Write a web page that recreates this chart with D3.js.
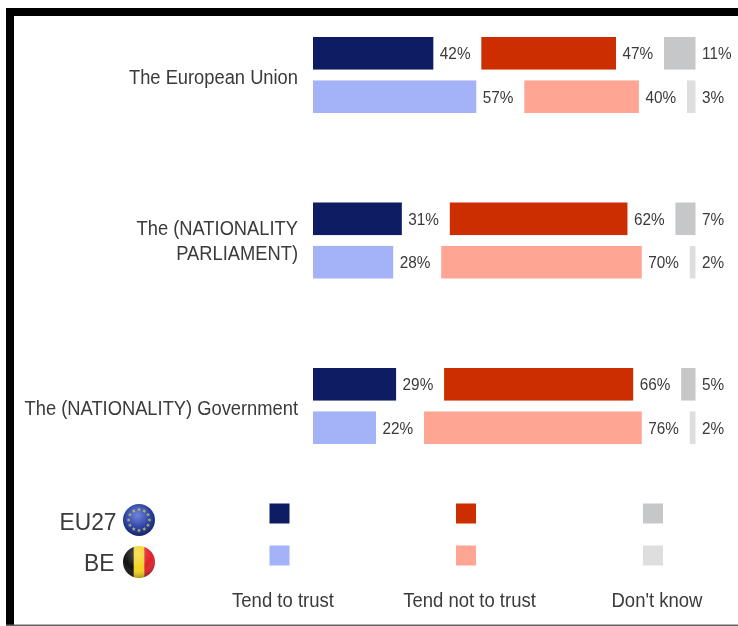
<!DOCTYPE html>
<html>
<head>
<meta charset="utf-8">
<script src="https://cdn.jsdelivr.net/npm/d3@7"></script>
<style>
html, body { margin: 0; padding: 0; background: #fff; }
svg { display: block; }
text { font-family: "Liberation Sans", Arial, sans-serif; fill: #3a3a3a; }
</style>
</head>
<body>
<div id="chart"></div>
<script>
// values
const categories = ["The European Union", "The (NATIONALITY PARLIAMENT)", "The (NATIONALITY) Government"];
const categoryLines = [["The European Union"], ["The (NATIONALITY", "PARLIAMENT)"], ["The (NATIONALITY) Government"]];
const responses = ["Tend to trust", "Tend not to trust", "Don't know"];
const populations = ["EU27", "BE"];
const eu27Values = [[42, 47, 11], [31, 62, 7], [29, 66, 5]];
const beValues = [[57, 40, 3], [28, 70, 2], [22, 76, 2]];
const eu27Colors = ["#0f1c64", "#cc2e02", "#c6c7c9"];
const beColors = ["#a4b3f8", "#fea594", "#dedede"];

const width = 738, height = 626;
const gap = 48; // space left after each bar for its label

const svg = d3.select("#chart").append("svg")
	.attr("width", width)
	.attr("height", height);

const defs = svg.append("defs");

// the reference is a soft, upscaled screenshot
defs.append("filter").attr("id", "soft")
	.append("feGaussianBlur").attr("stdDeviation", 0.65);

const euGrad = defs.append("radialGradient").attr("id", "euGrad")
	.attr("cx", "45%").attr("cy", "35%").attr("r", "70%");
euGrad.append("stop").attr("offset", "0%").attr("stop-color", "#6f86e0");
euGrad.append("stop").attr("offset", "60%").attr("stop-color", "#2a3f9e");
euGrad.append("stop").attr("offset", "100%").attr("stop-color", "#16235f");

defs.append("clipPath").attr("id", "beClip")
	.append("circle").attr("r", 16);

const shine = defs.append("radialGradient").attr("id", "shine")
	.attr("cx", "45%").attr("cy", "25%").attr("r", "75%");
shine.append("stop").attr("offset", "0%").attr("stop-color", "#fff").attr("stop-opacity", 0.3);
shine.append("stop").attr("offset", "60%").attr("stop-color", "#fff").attr("stop-opacity", 0);
shine.append("stop").attr("offset", "100%").attr("stop-color", "#000").attr("stop-opacity", 0.3);

const g = svg.append("g").attr("filter", "url(#soft)");

// frame
g.append("rect").attr("x", 6).attr("y", 8).attr("width", 8).attr("height", height - 8).attr("fill", "#000");
g.append("rect").attr("x", 6).attr("y", 8).attr("width", width - 6).attr("height", 8).attr("fill", "#000");
g.append("rect").attr("x", 6).attr("y", 624.5).attr("width", width - 6).attr("height", 1.5).attr("fill", "#666");

// scales
const x = d3.scaleLinear().domain([0, 100]).range([0, 286.5]);
const groupY = d3.scalePoint().domain(categories).range([37, 368]);
const rowY = d3.scaleBand().domain(populations).range([0, 76]).paddingInner(0.25);

const rows = categories.flatMap((c, i) => [
	{ category: c, population: "EU27", values: eu27Values[i], colors: eu27Colors },
	{ category: c, population: "BE", values: beValues[i], colors: beColors }
]);

const row = g.selectAll(".row")
	.data(rows)
	.enter().append("g")
	.attr("class", "row")
	.attr("transform", d => "translate(313," + (groupY(d.category) + rowY(d.population)) + ")");

const cell = row.selectAll(".cell")
	.data(d => {
		let cum = 0;
		return d.values.map((v, i) => {
			const start = x(cum) + gap * i;
			cum += v;
			return { value: v, start: start, color: d.colors[i] };
		});
	})
	.enter().append("g")
	.attr("class", "cell");

cell.append("rect")
	.attr("x", d => d.start)
	.attr("y", 0)
	.attr("width", d => x(d.value))
	.attr("height", rowY.bandwidth())
	.attr("fill", d => d.color);

cell.append("text")
	.attr("x", d => d.start + x(d.value) + 6.5)
	.attr("y", rowY.bandwidth() / 2)
	.attr("dy", "0.36em")
	.style("font-size", "16.5px")
	.attr("transform-origin", d => (d.start + x(d.value) + 6.5) + "px 0px")
	.style("transform", "scaleX(0.93)")
	.text(d => d.value + "%");

// category labels, right aligned against the bars
const labelCentre = [77, 240.5, 408];
const catLabel = g.selectAll(".cat")
	.data(categories)
	.enter().append("text")
	.attr("class", "cat")
	.attr("text-anchor", "end")
	.style("font-size", "19.5px")
	.attr("transform-origin", "298px 0px")
	.style("transform", "scaleX(0.94)");

catLabel.selectAll("tspan")
	.data((d, i) => categoryLines[i].map((t, j) => ({ t: t, y: labelCentre[i] + (j - (categoryLines[i].length - 1) / 2) * 25 })))
	.enter().append("tspan")
	.attr("x", 298)
	.attr("y", d => d.y)
	.attr("dy", "0.36em")
	.text(d => d.t);

// legend
const legendX = d3.scaleOrdinal().domain(responses).range([279.5, 466, 653]);
const legendLabelX = d3.scaleOrdinal().domain(responses).range([283, 469.5, 657]);
const legendY = d3.scaleOrdinal().domain(populations).range([513.5, 555.5]);
const swatch = 20;

g.selectAll(".sw-eu")
	.data(responses)
	.enter().append("rect")
	.attr("x", d => legendX(d) - swatch / 2)
	.attr("y", legendY("EU27") - swatch / 2)
	.attr("width", swatch).attr("height", swatch)
	.attr("fill", (d, i) => eu27Colors[i]);

g.selectAll(".sw-be")
	.data(responses)
	.enter().append("rect")
	.attr("x", d => legendX(d) - swatch / 2)
	.attr("y", legendY("BE") - swatch / 2)
	.attr("width", swatch).attr("height", swatch)
	.attr("fill", (d, i) => beColors[i]);

g.selectAll(".resp")
	.data(responses)
	.enter().append("text")
	.attr("x", d => legendLabelX(d))
	.attr("y", 600)
	.attr("dy", "0.36em")
	.attr("text-anchor", "middle")
	.style("font-size", "19.5px")
	.attr("transform-origin", d => legendLabelX(d) + "px 0px")
	.style("transform", "scaleX(0.95)")
	.text(d => d);

// population names and flags
const popRight = [116.5, 114.5];
g.selectAll(".pop")
	.data(populations)
	.enter().append("text")
	.attr("x", (d, i) => popRight[i])
	.attr("y", (d, i) => [521, 562][i])
	.attr("dy", "0.36em")
	.attr("text-anchor", "end")
	.style("font-size", "24px")
	.attr("transform-origin", (d, i) => popRight[i] + "px 0px")
	.style("transform", "scaleX(0.95)")
	.text(d => d);

const euFlag = g.append("g").attr("transform", "translate(139,520)");
euFlag.append("circle").attr("r", 16).attr("fill", "url(#euGrad)");
euFlag.selectAll("path")
	.data(d3.range(12))
	.enter().append("path")
	.attr("d", d3.symbol(d3.symbolStar, 6))
	.attr("fill", "#b9b26a")
	.attr("transform", d => "rotate(" + d * 30 + ") translate(0,-10.5)");

const beFlag = g.append("g").attr("transform", "translate(139,562)");
const beStripes = beFlag.append("g").attr("clip-path", "url(#beClip)");
beStripes.selectAll("rect")
	.data(["#111", "#f4d320", "#e0202a"])
	.enter().append("rect")
	.attr("x", (d, i) => -16 + i * 32 / 3)
	.attr("y", -16)
	.attr("width", 32 / 3 + 0.5)
	.attr("height", 32)
	.attr("fill", d => d);
beFlag.append("circle").attr("r", 16).attr("fill", "url(#shine)");
</script>
</body>
</html>
